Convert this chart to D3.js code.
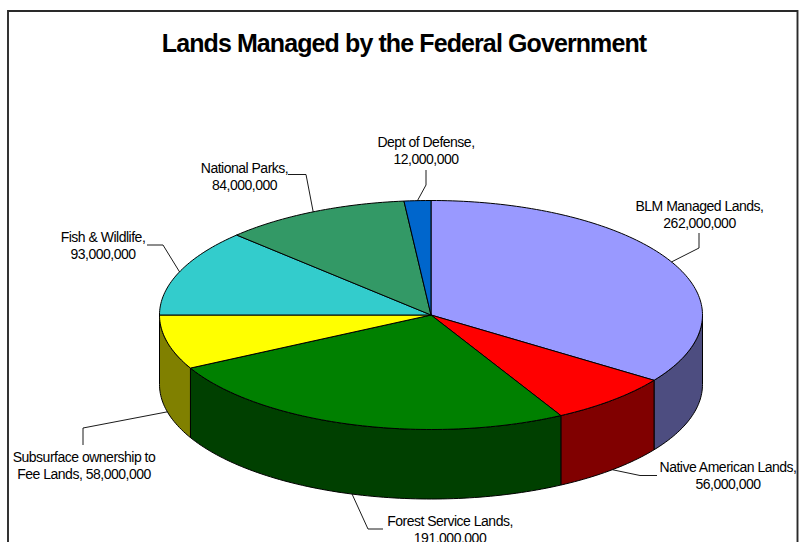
<!DOCTYPE html>
<html>
<head>
<meta charset="utf-8">
<script src="https://cdnjs.cloudflare.com/ajax/libs/d3/7.8.5/d3.min.js"></script>
<style>
html, body { margin: 0; padding: 0; background: #fff; overflow: hidden; }
svg { display: block; }
text { font-family: "Liberation Sans", Arial, sans-serif; fill: #000; }
</style>
</head>
<body>
<svg id="chart" width="804" height="542"></svg>
<script>
const chartTitle = "Lands Managed by the Federal Government";
const categories = ["BLM Managed Lands", "Native American Lands", "Forest Service Lands",
  "Subsurface ownership to Fee Lands", "Fish & Wildlife", "National Parks", "Dept of Defense"];
const acres = [262000000, 56000000, 191000000, 58000000, 93000000, 84000000, 12000000];
const topColors = ["#9999ff", "#ff0000", "#008000", "#ffff00", "#33cccc", "#339966", "#0066cc"];
const wallColors = ["#4d4d80", "#800000", "#004000", "#808000", "#1a6666", "#1a4d33", "#003366"];

// Label placement: centre x, first baseline, wrapped lines, and the elbow(s) of each leader.
const labelLayouts = [
  { x: 699.5, y: 211, lines: ["BLM Managed Lands,", "262,000,000"], elbows: [[699, 233], [699, 248]] },
  { x: 728, y: 472, lines: ["Native American Lands,", "56,000,000"], elbows: [[657, 475.5], [640, 475.5]] },
  { x: 450, y: 526, lines: ["Forest Service Lands,", "191,000,000"], elbows: [[383, 529], [368, 529]] },
  { x: 84, y: 462, lines: ["Subsurface ownership to", "Fee Lands, 58,000,000"], elbows: [[83, 445], [83, 428]] },
  { x: 103, y: 242, lines: ["Fish & Wildlife,", "93,000,000"], elbows: [[147, 245], [163, 245]] },
  { x: 244.5, y: 173, lines: ["National Parks,", "84,000,000"], elbows: [[288, 174.5], [306, 174.5]] },
  { x: 426, y: 147, lines: ["Dept of Defense,", "12,000,000"], elbows: [[426, 170], [426, 185]] }
];

const cx = 431, cy = 315, rx = 271.5, ry = 114.5, depth = 69.5;
const svg = d3.select("#chart");

// Outer chart frame; its bottom edge runs past the visible area.
svg.append("path")
  .attr("d", "M8,542V11H797.5V542")
  .attr("fill", "none").attr("stroke", "#2a2a2a").attr("stroke-width", 1.9);

svg.append("text")
  .attr("x", 404).attr("y", 52)
  .attr("text-anchor", "middle")
  .attr("font-size", 25).attr("font-weight", "bold")
  .attr("letter-spacing", -0.9)
  .text(chartTitle);

const slices = d3.pie().sort(null).value(d => d)(acres);

// A pie angle maps to the tilted ellipse; zero points up and angles run clockwise.
const px = a => cx + rx * Math.sin(a);
const py = a => cy - ry * Math.cos(a);
const arcPoints = (a0, a1) => {
  const n = Math.max(2, Math.ceil(Math.abs(a1 - a0) / 0.02));
  return d3.range(n + 1).map(i => a0 + (a1 - a0) * i / n);
};
const pathLine = d3.line();

// Side walls exist only on the front half of the ellipse.
slices.forEach((s, i) => {
  const a0 = Math.max(s.startAngle, Math.PI / 2);
  const a1 = Math.min(s.endAngle, 3 * Math.PI / 2);
  if (a1 <= a0) return;
  const upper = arcPoints(a0, a1).map(a => [px(a), py(a)]);
  const lower = arcPoints(a1, a0).map(a => [px(a), py(a) + depth]);
  svg.append("path")
    .attr("d", pathLine(upper.concat(lower)) + "Z")
    .attr("fill", wallColors[i])
    .attr("stroke", "#000").attr("stroke-width", 1).attr("stroke-linejoin", "round");
});

// Top faces of the slices.
slices.forEach((s, i) => {
  const rim = arcPoints(s.startAngle, s.endAngle).map(a => [px(a), py(a)]);
  svg.append("path")
    .attr("d", pathLine([[cx, cy]].concat(rim)) + "Z")
    .attr("fill", topColors[i])
    .attr("stroke", "#000").attr("stroke-width", 1).attr("stroke-linejoin", "round");
});

// Leaders run from each slice's mid-angle on the rim, or the wall's lower edge when in front.
slices.forEach((s, i) => {
  const mid = (s.startAngle + s.endAngle) / 2;
  const isFront = Math.cos(mid) < 0;
  const anchor = [px(mid), py(mid) + (isFront ? depth : 0)];
  svg.append("path")
    .attr("d", pathLine(labelLayouts[i].elbows.concat([anchor])))
    .attr("fill", "none").attr("stroke", "#000").attr("stroke-width", 0.9);
});

// Two-line data labels.
labelLayouts.forEach(layout => {
  const label = svg.append("text")
    .attr("text-anchor", "middle")
    .attr("font-size", 14).attr("letter-spacing", -0.5);
  layout.lines.forEach((line, j) => {
    label.append("tspan").attr("x", layout.x).attr("y", layout.y + j * 16.5).text(line);
  });
});
</script>
</body>
</html>
